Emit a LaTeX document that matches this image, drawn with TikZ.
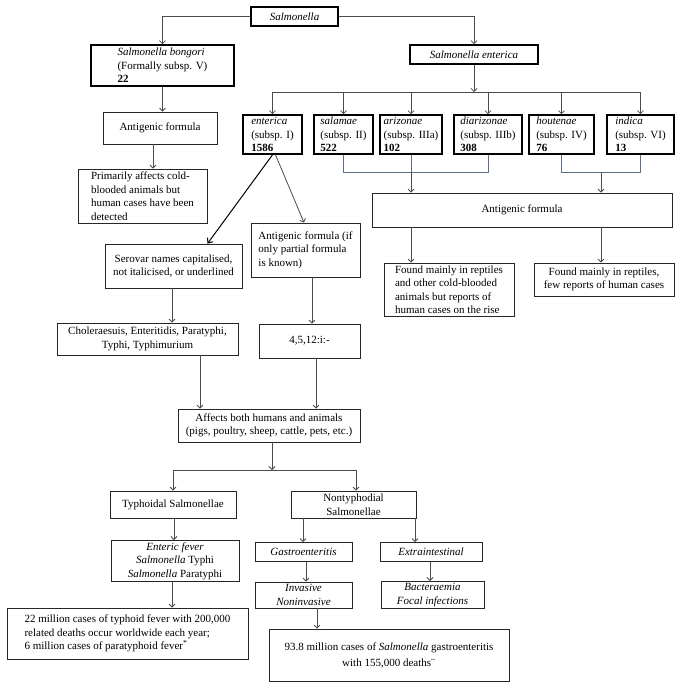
\documentclass[tikz,border=0pt]{standalone}
\usepackage{fontspec}
\setmainfont{Liberation Serif}
\usetikzlibrary{arrows.meta,calc}
\begin{document}
\begin{tikzpicture}[x=1pt,y=-1pt, font=\fontsize{11}{13.5}\selectfont,
 box/.style={draw=black!85, line width=0.8pt, inner sep=2pt, align=center},
 tbox/.style={box, line width=1.6pt, draw=black},
 arr/.style={draw=black!70, line width=0.8pt, -{Straight Barb[length=3pt,width=6pt]}},
 darr/.style={draw=black, line width=1pt, -{Straight Barb[length=4pt,width=7pt]}},
 ln/.style={draw=black!70, line width=0.8pt},
 brk/.style={draw={rgb,255:red,90;green,110;blue,140}, line width=0.8pt}]
\useasboundingbox[fill=white] (0,0) rectangle (682,688);

% top level
\node[tbox, minimum width=87pt, minimum height=19pt] (sal) at (294.5,16.5) {\textit{Salmonella}};
\node[tbox, minimum width=143pt, minimum height=41pt, align=left] (bong) at (162.5,65.5)
  {\textit{Salmonella bongori}\\(Formally subsp. V)\\\textbf{22}};
\node[tbox, minimum width=128pt, minimum height=19pt] (ent) at (474,54.5) {\textit{Salmonella enterica}};

% subspecies
\node[tbox, minimum width=59pt, minimum height=39pt, align=left] (e1) at (272.5,134.5) {\textit{enterica}\\(subsp. I)\\\textbf{1586}};
\node[tbox, minimum width=59pt, minimum height=39pt, align=left] (e2) at (343.5,134.5) {\textit{salamae}\\(subsp. II)\\\textbf{522}};
\node[tbox, minimum width=62pt, minimum height=39pt, align=left] (e3) at (411,134.5) {\textit{arizonae}\\(subsp. IIIa)\\\textbf{102}};
\node[tbox, minimum width=68pt, minimum height=39pt, align=left] (e4) at (488,134.5) {\textit{diarizonae}\\(subsp. IIIb)\\\textbf{308}};
\node[tbox, minimum width=65pt, minimum height=39pt, align=left] (e5) at (561.5,134.5) {\textit{houtenae}\\(subsp. IV)\\\textbf{76}};
\node[tbox, minimum width=67pt, minimum height=39pt, align=left] (e6) at (640.5,134.5) {\textit{indica}\\(subsp. VI)\\\textbf{13}};

% left branch (bongori)
\node[box, minimum width=114pt, minimum height=32pt] (af1) at (160,128) {Antigenic formula};
\node[box, minimum width=129pt, minimum height=54pt, align=left] (prim) at (142.5,196)
  {Primarily affects cold-\\blooded animals but\\human cases have been\\detected};

% right branch
\node[box, minimum width=300pt, minimum height=34pt] (af2) at (522,210) {Antigenic formula};
\node[box, minimum width=130pt, minimum height=53pt, align=left] (f1) at (449,289.5)
  {Found mainly in reptiles\\and other cold-blooded\\animals but reports of\\human cases on the rise};
\node[box, minimum width=140pt, minimum height=33pt] (f2) at (604,279.5)
  {Found mainly in reptiles,\\few reports of human cases};

% enterica branch
\node[box, minimum width=137pt, minimum height=44pt] (ser) at (173.5,266)
  {Serovar names capitalised,\\not italicised, or underlined};
\node[box, minimum width=109pt, minimum height=54pt, align=left] (part) at (305.5,250)
  {Antigenic formula (if\\only partial formula\\is known)};
\node[box, minimum width=181pt, minimum height=32pt] (chol) at (147.5,339)
  {Choleraesuis, Enteritidis, Paratyphi,\\Typhi, Typhimurium};
\node[box, minimum width=101pt, minimum height=34pt] (num) at (309.5,341) {4,5,12:i:-};
\node[box, minimum width=182pt, minimum height=33pt] (aff) at (269,425.5)
  {Affects both humans and animals\\(pigs, poultry, sheep, cattle, pets, etc.)};

% bottom
\node[box, minimum width=126pt, minimum height=27pt] (typ) at (173,504.5) {Typhoidal Salmonellae};
\node[box, minimum width=125pt, minimum height=27pt] (non) at (353.5,504.5) {Nontyphodial\\Salmonellae};
\node[box, minimum width=128pt, minimum height=38pt] (entf) at (175,561)
  {\textit{Enteric fever}\\\textit{Salmonella} Typhi\\\textit{Salmonella} Paratyphi};
\node[box, minimum width=97pt, minimum height=19pt] (gas) at (303.5,552) {\textit{Gastroenteritis}};
\node[box, minimum width=102pt, minimum height=19pt] (ext) at (431,552) {\textit{Extraintestinal}};
\node[box, minimum width=97pt, minimum height=26pt] (inv) at (303.5,595) {\textit{Invasive}\\\textit{Noninvasive}};
\node[box, minimum width=103pt, minimum height=26pt] (bac) at (432.5,595) {\textit{Bacteraemia}\\\textit{Focal infections}};
\node[box, minimum width=241pt, minimum height=51pt, align=left] (m22) at (127.5,633.5)
  {22 million cases of typhoid fever with 200,000\\related deaths occur worldwide each year;\\6 million cases of paratyphoid fever\textsuperscript{*}};
\node[box, minimum width=240pt, minimum height=52pt, font=\fontsize{11}{16}\selectfont] (m93) at (389,655)
  {93.8 million cases of \textit{Salmonella} gastroenteritis\\with 155,000 deaths\textsuperscript{\textasciitilde}};

% connectors top
\draw[arr] (sal.west) -| (bong.north);
\draw[arr] (sal.east) -| (ent.north);
\coordinate (bj) at (472,92);
\draw[arr] (ent.south) -- (ent.south |- bj);
\draw[ln] (e1.north |- bj) -- (e6.north |- bj);
\foreach \n in {e1,e2,e3,e4,e5,e6} \draw[arr] (\n.north |- bj) -- (\n.north);

% bongori branch
\draw[arr] (bong.south) -- (bong.south |- af1.north);
\coordinate (ax) at (153,0);
\draw[arr] (ax |- af1.south) -- (ax |- prim.north);

% brackets
\coordinate (k) at (0,172);
\draw[brk] (e2.south) -- (e2.south |- k) -- (e4.south |- k) -- (e4.south);
\draw[brk] (e3.south) -- (e3.south |- k);
\draw[arr] (e3.south |- k) -- (e3.south |- af2.north);
\draw[brk] (e5.south) -- (e5.south |- k) -- (e6.south |- k) -- (e6.south);
\coordinate (mm) at ($(e5.south)!0.5!(e6.south)$);
\draw[arr] (mm |- k) -- (mm |- af2.north);
\draw[arr] (e3.south |- af2.south) -- (e3.south |- f1.north);
\draw[arr] (mm |- af2.south) -- (mm |- f2.north);

% enterica branch
\draw[darr] (e1.south) -- ($(ser.north)+(34,0)$);
\draw[arr] ($(e1.south)+(3,0)$) -- ($(part.north)+(-1.5,0)$);
\coordinate (sx) at (172,0);
\draw[arr] (sx |- ser.south) -- (sx |- chol.north);
\coordinate (px) at (312,0);
\draw[arr] (px |- part.south) -- (px |- num.north);
\coordinate (cx) at (200,0);
\draw[arr] (cx |- chol.south) -- (cx |- aff.north);
\coordinate (nx) at (316,0);
\draw[arr] (nx |- num.south) -- (nx |- aff.north);

% bottom
\coordinate (bb) at (272,470);
\draw[arr] (bb |- aff.south) -- (bb);
\coordinate (nr) at (356,470);
\draw[ln] (typ.north |- bb) -- (nr);
\draw[arr] (typ.north |- bb) -- (typ.north);
\draw[arr] (nr) -- (nr |- non.north);
\coordinate (tx) at (174,0);
\draw[arr] (tx |- typ.south) -- (tx |- entf.north);
\coordinate (gx) at (303,0);
\draw[arr] (gx |- non.south) -- (gx |- gas.north);
\coordinate (ex) at (415,0);
\draw[arr] (ex |- non.south) -- (ex |- ext.north);
\coordinate (ix) at (306,0);
\draw[arr] (ix |- gas.south) -- (ix |- inv.north);
\coordinate (bx) at (430,0);
\draw[arr] (bx |- ext.south) -- (bx |- bac.north);
\coordinate (mx) at (172,0);
\draw[arr] (mx |- entf.south) -- (mx |- m22.north);
\coordinate (vx) at (317,0);
\draw[arr] (vx |- inv.south) -- (vx |- m93.north);
\end{tikzpicture}
\end{document}
